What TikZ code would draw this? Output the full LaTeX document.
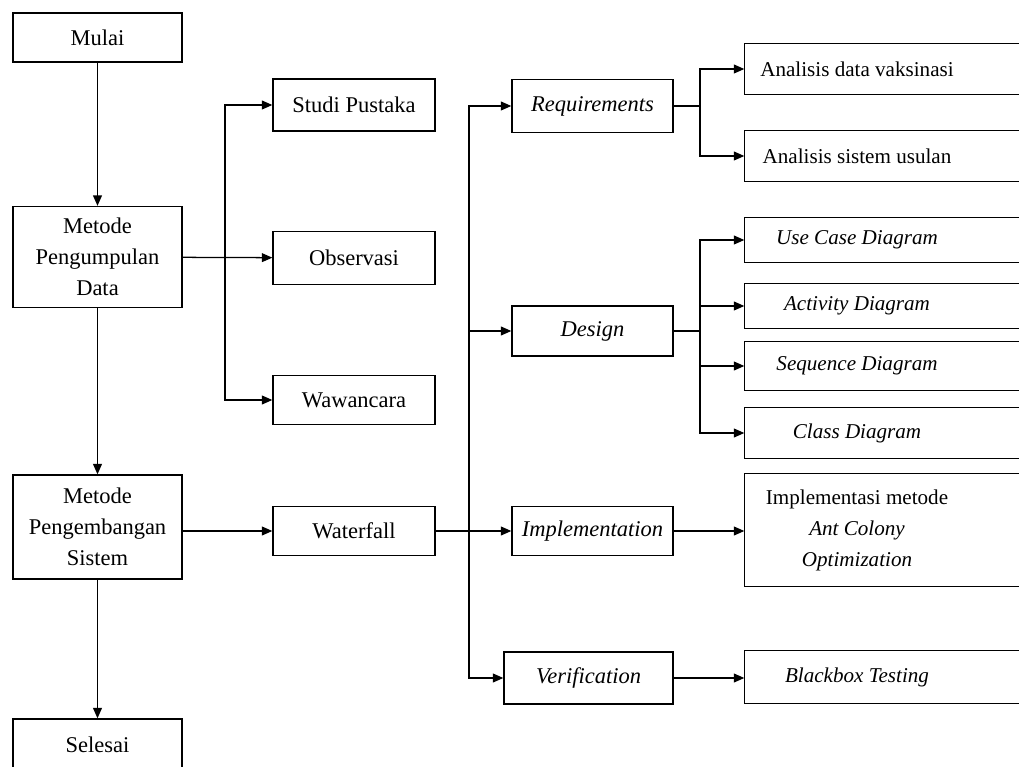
\documentclass[tikz,border=0pt]{standalone}
\usepackage{fontspec}
\setmainfont{Liberation Serif}
\usetikzlibrary{arrows.meta,calc}
\tikzset{
box/.style={draw,line width=.9pt,align=center,inner sep=1pt,font=\fontsize{16}{22}\selectfont},
sidebox/.style={box,draw=none,minimum width=5.6cm,font=\fontsize{15}{22}\selectfont},
flow/.style={-{Triangle[length=2.6mm,width=2.2mm]},line width=.9pt},
link/.style={line width=.9pt}}
\begin{document}
\begin{tikzpicture}[x=0.025cm,y=-0.025cm]
\useasboundingbox (0,0) rectangle (1019,767);
\node[box,minimum width=4.225cm,minimum height=1.225cm] (mulai) at (97.5,37.5) {Mulai};
\node[box,minimum width=4.225cm,minimum height=2.525cm] (kumpul) at (97.5,257) {Metode\\Pengumpulan\\Data};
\node[box,minimum width=4.225cm,minimum height=2.6cm] (kembang) at (97.5,527) {Metode\\Pengembangan\\Sistem};
\node[box,minimum width=4.225cm,minimum height=1.3cm] (selesai) at (97.5,745) {Selesai};
\draw[flow] (mulai)--(kumpul);
\draw[flow] (kumpul)--(kembang);
\draw[flow] (kembang)--(selesai);
\node[box,minimum width=4.05cm,minimum height=1.3cm] (studi) at (354,105) {Studi Pustaka};
\node[box,minimum width=4.05cm,minimum height=1.325cm] (observasi) at (354,258) {Observasi};
\node[box,minimum width=4.05cm,minimum height=1.225cm] (wawancara) at (354,400) {Wawancara};
\node[box,minimum width=4.05cm,minimum height=1.225cm] (waterfall) at (354,531) {Waterfall};
\coordinate (kumpulfork) at (225,258);
\draw[flow] (kumpul)--(observasi);
\draw[flow] (kumpulfork)|-(studi);
\draw[flow] (kumpulfork)|-(wawancara);
\draw[flow] (kembang.east|-waterfall)--(waterfall);
\node[box,minimum width=4.025cm,minimum height=1.325cm] (req) at (592.5,106) {\itshape Requirements};
\node[box,minimum width=4.025cm,minimum height=1.25cm] (design) at (592.5,331) {\itshape Design};
\node[box,minimum width=4.025cm,minimum height=1.225cm] (impl) at (592.5,531) {\itshape Implementation};
\node[box,minimum width=4.225cm,minimum height=1.3cm] (verif) at (588.5,678) {\itshape Verification};
\coordinate (waterfork) at (469,531);
\draw[flow] (waterfall)--(impl);
\draw[flow] (waterfork)|-(req);
\draw[flow] (waterfork)|-(design);
\draw[flow] (waterfork)|-(verif);
\node[sidebox,minimum height=1.25cm] (vaksin) at (857,69) {Analisis data vaksinasi};
\node[sidebox,minimum height=1.225cm] (usulan) at (857,156) {Analisis sistem usulan};
\node[sidebox,minimum height=1.1cm] (usecase) at (857,240) {\itshape Use Case Diagram};
\node[sidebox,minimum height=1.1cm] (activity) at (857,306) {\itshape Activity Diagram};
\node[sidebox,minimum height=1.175cm] (sequence) at (857,366) {\itshape Sequence Diagram};
\node[sidebox,minimum height=1.225cm] (classdiag) at (857,433) {\itshape Class Diagram};
\node[sidebox,minimum height=2.8cm] (aco) at (857,530) {Implementasi metode\\\itshape Ant Colony\\\itshape Optimization};
\node[sidebox,minimum height=1.275cm] (blackbox) at (857,677) {\itshape Blackbox Testing};
\foreach \n in {vaksin,usulan,usecase,activity,sequence,classdiag,aco,blackbox}
  \draw[link] (\n.north west) rectangle ($(\n.south east)+(60,0)$);
\coordinate (reqfork) at (700,106);
\draw[link] (req)--(reqfork);
\draw[flow] (reqfork)|-(vaksin);
\draw[flow] (reqfork)|-(usulan);
\coordinate (designfork) at (700,331);
\draw[link] (design)--(designfork);
\draw[flow] (designfork)|-(usecase);
\draw[flow] (designfork)|-(activity);
\draw[flow] (designfork)|-(sequence);
\draw[flow] (designfork)|-(classdiag);
\draw[flow] (impl)--(impl-|aco.west);
\draw[flow] (verif)--(verif-|blackbox.west);
\end{tikzpicture}
\end{document}
